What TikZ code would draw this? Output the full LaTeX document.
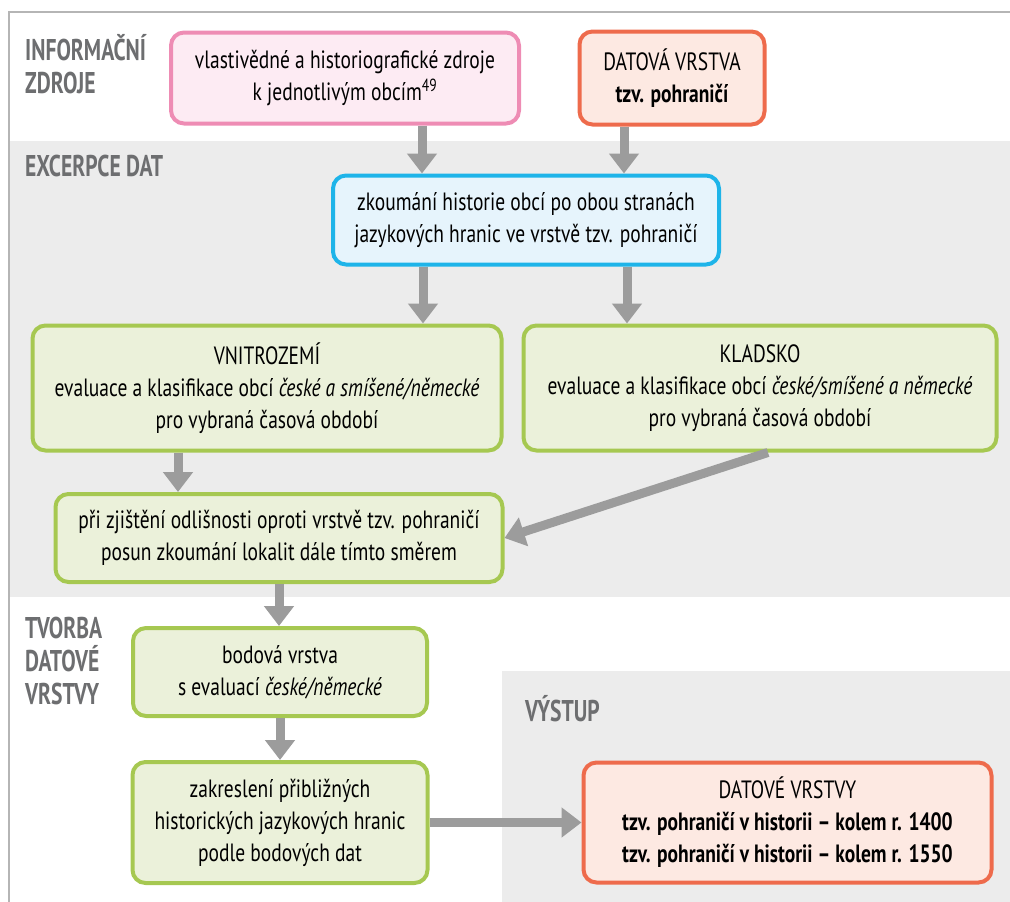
\documentclass[tikz,border=0pt]{standalone}
\usepackage{fontspec}
\setmainfont{PT Sans}[FakeStretch=0.78]
\newfontfamily\labelfont{PT Sans}[FakeStretch=0.72]
\usetikzlibrary{arrows.meta,positioning}
\definecolor{BandGrey}{HTML}{ECECEC}
\definecolor{FrameGrey}{HTML}{B5B5B5}
\definecolor{LabelGrey}{HTML}{6D6E70}
\definecolor{ArrowGrey}{HTML}{9C9C9C}
\definecolor{LeafGreen}{HTML}{A6C851}
\definecolor{PaleGreen}{HTML}{EBF1DA}
\definecolor{SkyBlue}{HTML}{1EB4E9}
\definecolor{PaleBlue}{HTML}{E6F4FC}
\definecolor{RosePink}{HTML}{EE8CB4}
\definecolor{PalePink}{HTML}{FDEBF3}
\definecolor{Salmon}{HTML}{EE6B4C}
\definecolor{PaleSalmon}{HTML}{FDE9E2}

\begin{document}
\begin{tikzpicture}[
  x=1pt, y=-1pt,
  flowbox/.style={draw=LeafGreen, fill=PaleGreen, line width=4pt, rounded corners=13pt,
               align=center, inner sep=0pt, font=\fontsize{25}{32}\selectfont},
  srcbox/.style={flowbox, draw=RosePink, fill=PalePink},
  layerbox/.style={flowbox, draw=Salmon, fill=PaleSalmon},
  excbox/.style={flowbox, draw=SkyBlue, fill=PaleBlue},
  sectlabel/.style={anchor=north west, inner sep=0pt, align=left, text=LabelGrey,
               font=\labelfont\bfseries\fontsize{30}{33}\selectfont},
  arrow/.style={-{Triangle[width=29pt,length=20pt]}, line width=9pt, draw=ArrowGrey}
]
\useasboundingbox (0,0) rectangle (1010,902);
% section bands and frame
\fill[BandGrey] (10,141) rectangle (1010,597);
\fill[BandGrey] (502,671) rectangle (1010,902);
\draw[FrameGrey, line width=2pt] (9,902) -- (9,12) -- (1010,12);

\node[sectlabel] (lsrc) at (25,34) {INFORMAČNÍ\\ZDROJE};
\node[sectlabel] (lexc) at (25,155) {EXCERPCE DAT};
\node[sectlabel] (lmake) at (25,617) {TVORBA\\DATOVÉ\\VRSTVY};
\node[sectlabel] (lout) at (525,695) {VÝSTUP};

\node[srcbox, minimum width=348pt, minimum height=91pt] (src) at (345,78)
  {vlastivědné a historiografické zdroje\\k jednotlivým obcím\textsuperscript{49}};
\node[layerbox, minimum width=185pt, minimum height=93pt] (layer) at (672,78)
  {DATOVÁ VRSTVA\\\textbf{tzv. pohraničí}};
\node[excbox, minimum width=386pt, minimum height=89pt] (zkoum) at (526,220)
  {zkoumání historie obcí po obou stranách\\jazykových hranic ve vrstvě tzv. pohraničí};
\node[flowbox, minimum width=469pt, minimum height=125pt] (vnitro) at (267,388)
  {VNITROZEMÍ\\evaluace a klasifikace obcí \textit{české a smíšené/německé}\\pro vybraná časová období};
\node[flowbox, minimum width=473pt, minimum height=125pt] (kladsko) at (760,388)
  {KLADSKO\\evaluace a klasifikace obcí \textit{české/smíšené a německé}\\pro vybraná časová období};
\node[flowbox, minimum width=447pt, minimum height=88pt] (posun) at (279,538)
  {při zjištění odlišnosti oproti vrstvě tzv. pohraničí\\posun zkoumání lokalit dále tímto směrem};
\node[flowbox, minimum width=294pt, minimum height=88pt] (bodova) at (280,672)
  {bodová vrstva\\s evaluací \textit{české/německé}};
\node[flowbox, minimum width=295pt, minimum height=121pt, below=42pt of bodova] (zakres)
  {zakreslení přibližných\\historických jazykových hranic\\podle bodových dat};
\node[layerbox, minimum width=408pt, minimum height=120pt, right=152pt of zakres] (vystup)
  {DATOVÉ VRSTVY\\\textbf{tzv. pohraničí v historii -- kolem r. 1400}\\\textbf{tzv. pohraničí v historii -- kolem r. 1550}};

\draw[arrow] ([xshift=77pt]src.south) -- ([xshift=-104pt]zkoum.north);
\draw[arrow] ([xshift=-48pt]layer.south) -- ([xshift=98pt]zkoum.north);
\draw[arrow] ([xshift=-103pt]zkoum.south) -- ([xshift=156pt]vnitro.north);
\draw[arrow] ([xshift=101pt]zkoum.south) -- ([xshift=-133pt]kladsko.north);
\draw[arrow] ([xshift=-89pt]vnitro.south) -- ([xshift=-101pt]posun.north);
\draw[arrow] ([xshift=8pt]kladsko.south) -- (posun.east);
\draw[arrow] (posun.south) -- (posun.south |- bodova.north);
\draw[arrow] (bodova.south) -- (bodova.south |- zakres.north);
\draw[arrow] (zakres.east) -- (vystup.west);
\end{tikzpicture}
\end{document}
